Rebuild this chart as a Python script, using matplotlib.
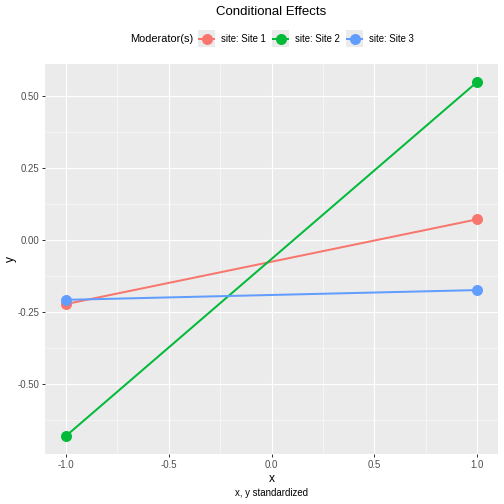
import matplotlib
matplotlib.use("Agg")
import matplotlib.pyplot as plt
from matplotlib.lines import Line2D
from matplotlib.patches import Rectangle
from matplotlib.ticker import MultipleLocator

plt.rcParams['font.family'] = ['Liberation Sans', 'DejaVu Sans']

x_vals = [-1.0, 1.0]
sites = ["site: Site 1", "site: Site 2", "site: Site 3"]
site1 = [-0.222, 0.073]
site2 = [-0.681, 0.551]
site3 = [-0.207, -0.173]
colors = ["#F8766D", "#00BA38", "#619CFF"]
x_ticks = [-1.0, -0.5, 0.0, 0.5, 1.0]
y_ticks = [-0.50, -0.25, 0.00, 0.25, 0.50]

W = H = 504
fig = plt.figure(figsize=(7, 7), dpi=72)
L, R, T, B = 45, 498, 64, 454
ax = fig.add_axes([L / W, (H - B) / H, (R - L) / W, (B - T) / H])
ax.set_facecolor("#EBEBEB")
for s in ax.spines.values():
    s.set_visible(False)

series = [site1, site2, site3]
for vals, c in zip(series, colors):
    ax.plot(x_vals, vals, color=c, lw=2.0, zorder=3, solid_capstyle='butt')
    ax.plot(x_vals, vals, 'o', color=c, ms=11, mec='none', zorder=4)

allv = site1 + site2 + site3
lo, hi = min(allv), max(allv)
pad = (hi - lo) * 0.05
ax.set_ylim(lo - pad, hi + pad)
ax.set_xlim(-1.1, 1.1)

ax.set_xticks(x_ticks)
ax.set_yticks(y_ticks)
ax.set_xticklabels([f"{v:.1f}" for v in x_ticks])
ax.set_yticklabels([f"{v:.2f}" for v in y_ticks])
ax.xaxis.set_minor_locator(MultipleLocator(0.25))
ax.yaxis.set_minor_locator(MultipleLocator(0.125))
ax.grid(which='major', color='white', lw=1.1, zorder=0)
ax.grid(which='minor', color='white', lw=0.55, zorder=0)
ax.set_axisbelow(True)
ax.tick_params(which='major', length=3, width=1, color='#333333',
               labelsize=9.6, labelcolor='#4D4D4D', pad=2.5)
ax.tick_params(which='minor', length=0)

ax.set_xlabel("x", fontsize=12, color='black', labelpad=4)
ax.set_ylabel("y", fontsize=12, color='black', labelpad=1)

fig.text((L + R) / 2 / W, 1 - 12 / H, "Conditional Effects", ha='center', va='center', fontsize=13.2)
fig.text((L + R) / 2 / W, 1 - 493 / H, "x, y standardized", ha='center', va='center', fontsize=9.6)

# legend
ly = 39
fig.text(130 / W, 1 - ly / H, "Moderator(s)", ha='left', va='center', fontsize=11)
key_x = [198, 272, 346]
for kx, c, lab in zip(key_x, colors, sites):
    fig.patches.append(Rectangle((kx / W, 1 - 47 / H), 17 / W, 17 / H,
                                 transform=fig.transFigure, facecolor='#EBEBEB', edgecolor='none'))
    fig.lines.append(Line2D([(kx + 1) / W, (kx + 16) / W], [1 - ly / H, 1 - ly / H],
                            transform=fig.transFigure, color=c, lw=2.0))
    fig.lines.append(Line2D([(kx + 8.5) / W], [1 - ly / H], transform=fig.transFigure,
                            marker='o', ms=11, color=c, mec='none', lw=0))
    fig.text((kx + 23) / W, 1 - ly / H, lab, ha='left', va='center', fontsize=9.6)

fig.savefig("out.png", dpi=72)
